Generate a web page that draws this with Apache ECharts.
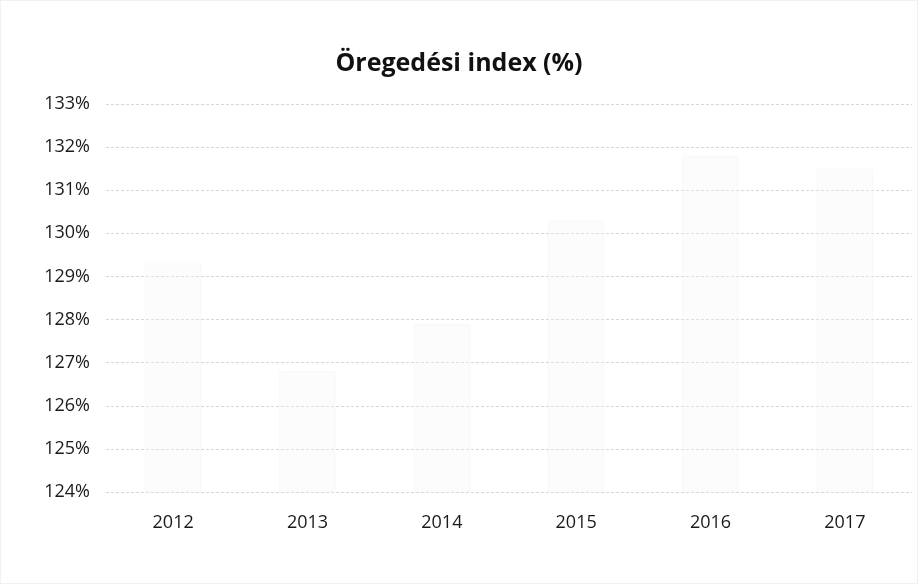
<!DOCTYPE html>
<html>
<head>
<meta charset="utf-8">
<script src="https://cdn.jsdelivr.net/npm/echarts@6/dist/echarts.min.js"></script>
<style>
  html, body { margin: 0; padding: 0; background: #fff; }
  #chart { width: 918px; height: 584px; box-sizing: border-box; border: 1px solid #f1f1f1; }
</style>
</head>
<body>
<div id="chart"></div>
<script>
// values; bars are barely visible
const years = ['2012', '2013', '2014', '2015', '2016', '2017'];
const agingIndex = [129.3, 126.8, 127.9, 130.3, 131.8, 131.5];
const yMin = 124;
const yMax = 133;

const chart = echarts.init(document.getElementById('chart'), null, { renderer: 'canvas' });

chart.setOption({
  animation: false,
  title: {
    text: 'Öregedési index (%)',
    left: 'center',
    top: 45,
    textStyle: {
      fontFamily: 'Open Sans',
      fontSize: 25,
      fontWeight: 'bold',
      color: '#111'
    }
  },
  grid: { left: 105, right: 5, top: 103, bottom: 91 },
  xAxis: {
    type: 'category',
    data: years,
    axisLine: { show: false },
    axisTick: { show: false },
    axisLabel: {
      margin: 22,
      fontFamily: 'Open Sans',
      fontSize: 18,
      color: '#1a1a1a'
    }
  },
  yAxis: {
    type: 'value',
    min: yMin,
    max: yMax,
    interval: 1,
    axisLine: { show: false },
    axisTick: { show: false },
    axisLabel: {
      margin: 16,
      formatter: '{value}%',
      fontFamily: 'Open Sans',
      fontSize: 18,
      color: '#1a1a1a'
    },
    splitLine: {
      lineStyle: { color: '#d6d6d6', type: [3, 2], width: 1 }
    }
  },
  series: [{
    type: 'bar',
    data: agingIndex,
    barWidth: '42%',
    itemStyle: {
      color: 'rgba(245,245,245,0.3)',
      borderColor: 'rgba(238,238,238,0.35)',
      borderWidth: 1
    }
  }]
});

window.addEventListener('resize', () => chart.resize());
</script>
</body>
</html>
